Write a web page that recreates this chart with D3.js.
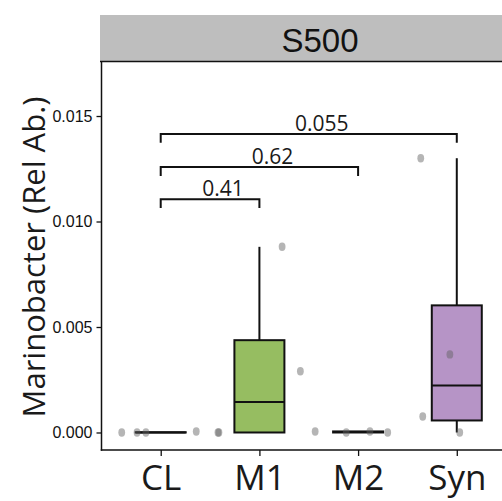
<!DOCTYPE html>
<html><head><meta charset="utf-8">
<script src="https://cdn.jsdelivr.net/npm/d3@7"></script>
<style>body{margin:0;background:#fff}svg{display:block}</style>
</head><body>
<svg id="c" width="502" height="501"></svg>
<script>
const panelTitle = "S500";
const yTitle = "Marinobacter (Rel Ab.)";
const categories = ["CL", "M1", "M2", "Syn"];
const boxFills = ["#d9d9d9", "#96bd61", "#d9d9d9", "#b694c6"];
// observed sample values per group
const valuesCL  = [0, 0, 0, 0.00005];
const valuesM1  = [0, 0, 0.0029, 0.0088];
const valuesM2  = [0.00005, 0, 0.00005, 0];
const valuesSyn = [0.0130, 0.00076, 0.0037, 0];
// horizontal jitter, in category-step units
const jitterCL  = [-0.395, -0.24, -0.15, 0.36];
const jitterM1  = [-0.42, -0.41, 0.415, 0.23];
const jitterM2  = [-0.435, -0.12, 0.12, 0.30];
const jitterSyn = [-0.365, -0.345, -0.07, 0.03];
const yTicks = [0, 0.005, 0.010, 0.015];
const comparisons = [
  {a: "CL", b: "M1",  y: 0.01106, label: "0.41"},
  {a: "CL", b: "M2",  y: 0.01258, label: "0.62"},
  {a: "CL", b: "Syn", y: 0.01415, label: "0.055"}
];
const bracketTip = 0.00042;

const groups = [
  {name: "CL",  v: valuesCL,  j: jitterCL},
  {name: "M1",  v: valuesM1,  j: jitterM1},
  {name: "M2",  v: valuesM2,  j: jitterM2},
  {name: "Syn", v: valuesSyn, j: jitterSyn}
];

const svg = d3.select("#c");
const L = 101.5, R = 516, T = 62, B = 450;

const x = d3.scalePoint().domain(categories).range([L, R]).padding(0.6);
const step = x.step();
const y = d3.scaleLinear().domain([-0.00083, 0.01756]).range([B, T]);

// strip
svg.append("rect").attr("x", 100).attr("y", 15).attr("width", 420).attr("height", 47).attr("fill", "#bebebe");
svg.append("line").attr("x1", 100).attr("x2", 520).attr("y1", 61.5).attr("y2", 61.5).attr("stroke", "#111").attr("stroke-width", 1.5);
svg.append("text").attr("x", 320).attr("y", 52).attr("text-anchor", "middle")
  .attr("font-family", "'Liberation Sans Narrow','Arial Narrow',sans-serif").attr("font-size", 33)
  .attr("fill", "#111").text(panelTitle);

// axes
const yAxis = d3.axisLeft(y).tickValues(yTicks).tickFormat(d3.format(".3f")).tickSize(5).tickSizeOuter(0).tickPadding(4);
const gy = svg.append("g").attr("transform", `translate(${L},0)`).call(yAxis);
gy.select(".domain").remove();
gy.selectAll(".tick line").attr("stroke", "#111").attr("stroke-width", 1.3);
gy.selectAll(".tick text").attr("font-family", "'Liberation Sans Narrow','Arial Narrow',sans-serif")
  .attr("font-size", 16).attr("fill", "#111");
svg.append("line").attr("x1", L).attr("x2", L).attr("y1", T).attr("y2", B + 0.75).attr("stroke", "#111").attr("stroke-width", 1.5);

const xAxis = d3.axisBottom(x).tickSize(6).tickSizeOuter(0).tickPadding(6);
const gx = svg.append("g").attr("transform", `translate(0,${B})`).call(xAxis);
gx.select(".domain").remove();
gx.selectAll(".tick line").attr("stroke", "#111").attr("stroke-width", 1.3);
gx.selectAll(".tick text").attr("font-family", "'Open Sans',sans-serif").attr("font-size", 35)
  .attr("fill", "#1a1a1a").attr("dy", "0").attr("y", 40);
svg.append("line").attr("x1", L - 0.75).attr("x2", 520).attr("y1", B).attr("y2", B).attr("stroke", "#111").attr("stroke-width", 1.5);

// y title
svg.append("text").attr("transform", `translate(45,257) rotate(-90)`).attr("text-anchor", "middle")
  .attr("font-family", "'Open Sans',sans-serif").attr("font-size", 31).attr("fill", "#1a1a1a").text(yTitle);

// boxplots
const half = 25;
groups.forEach((g, i) => {
  const s = g.v.slice().sort(d3.ascending);
  const q1 = d3.quantileSorted(s, 0.25), med = d3.quantileSorted(s, 0.5), q3 = d3.quantileSorted(s, 0.75);
  const iqr = q3 - q1;
  const hi = d3.max(s.filter(v => v <= q3 + 1.5 * iqr));
  const lo = d3.min(s.filter(v => v >= q1 - 1.5 * iqr));
  const cx = x(g.name);
  const gg = svg.append("g");
  gg.append("line").attr("x1", cx).attr("x2", cx).attr("y1", y(q3)).attr("y2", y(hi)).attr("stroke", "#111").attr("stroke-width", 2);
  gg.append("line").attr("x1", cx).attr("x2", cx).attr("y1", y(q1)).attr("y2", y(lo)).attr("stroke", "#111").attr("stroke-width", 2);
  gg.append("rect").attr("x", cx - half).attr("width", 2 * half).attr("y", y(q3)).attr("height", Math.max(0, y(q1) - y(q3)))
    .attr("fill", boxFills[i]).attr("stroke", "#111").attr("stroke-width", 2);
  gg.append("line").attr("x1", cx - half).attr("x2", cx + half).attr("y1", y(med)).attr("y2", y(med)).attr("stroke", "#111").attr("stroke-width", 2);
});

// points
groups.forEach(g => {
  g.v.forEach((v, k) => {
    svg.append("ellipse").attr("cx", x(g.name) + g.j[k] * step).attr("cy", y(v)).attr("rx", 3.4).attr("ry", 4.2)
      .attr("fill", "#626262").attr("fill-opacity", 0.47);
  });
});

// comparison brackets
comparisons.forEach(c => {
  const x1 = x(c.a), x2 = x(c.b), yy = y(c.y), yt = y(c.y - bracketTip);
  svg.append("path").attr("d", `M${x1},${yt}V${yy}H${x2}V${yt}`).attr("fill", "none").attr("stroke", "#111").attr("stroke-width", 2);
  svg.append("text").attr("x", (x1 + x2) / 2 + 13).attr("y", yy - 3).attr("text-anchor", "middle")
    .attr("font-family", "'Open Sans',sans-serif").attr("font-size", 21).attr("fill", "#1a1a1a").text(c.label);
});
</script>
</body></html>
